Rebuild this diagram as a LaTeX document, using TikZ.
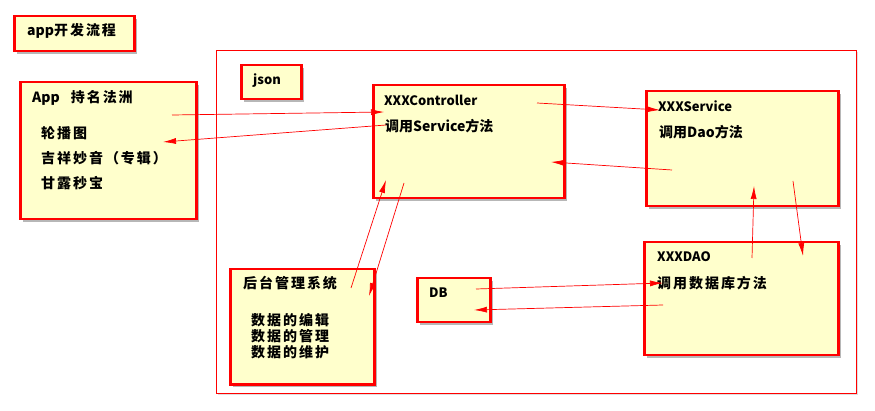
\documentclass[tikz,border=0pt]{standalone}
\usepackage{fontspec}
\setmainfont{Noto Sans CJK SC}
\newfontfamily\widecjk{Noto Sans CJK SC}[LetterSpace=14]
\usetikzlibrary{arrows.meta,shadows}
\definecolor{notefill}{RGB}{255,255,204}
\definecolor{notered}{RGB}{255,0,0}
\tikzset{
  note/.style={draw=notered,line width=2.5pt,fill=notefill,anchor=north west,inner sep=0pt,
    drop shadow={shadow xshift=3pt,shadow yshift=-3pt,opacity=0.4,fill=black!70}},
  txt/.style={anchor=west,inner sep=0pt,font=\bfseries\fontsize{14}{16}\selectfont},
  wide/.style={txt,font=\widecjk\bfseries\fontsize{14}{16}\selectfont},
  small/.style={txt,font=\bfseries\fontsize{13}{15}\selectfont},
  flow/.style={draw=notered,line width=0.7pt,-{Latex[length=13pt,width=6pt]}}
}
\newcommand\latinpart[1]{{\rmfamily\bfseries #1}}
\begin{document}
\begin{tikzpicture}[x=1pt,y=-1pt]
\useasboundingbox (0,0) rectangle (875,411);
% outer frame
\node[draw=notered,line width=0.8pt,fill=white,anchor=north west,inner sep=0pt,
  minimum width=640pt,minimum height=343pt,
  drop shadow={shadow xshift=2pt,shadow yshift=-2pt,opacity=0.25}] (area) at (216,50) {};
% boxes
\node[note,minimum width=120pt,minimum height=35pt] (title) at (13,15) {};
\node[note,minimum width=60pt,minimum height=34pt] (json) at (240,64) {};
\node[note,minimum width=176pt,minimum height=137pt] (app) at (19,81) {};
\node[note,minimum width=191pt,minimum height=113pt] (ctrl) at (372,84) {};
\node[note,minimum width=192pt,minimum height=115pt] (svc) at (645,90) {};
\node[note,minimum width=144pt,minimum height=115pt] (admin) at (229,268) {};
\node[note,minimum width=73pt,minimum height=44pt] (db) at (416,277) {};
\node[note,minimum width=194pt,minimum height=113pt] (dao) at (643,241) {};
% texts
\node[wide] (title-t) at (27,31) {\latinpart{app}开发流程};
\node[small] (json-t) at (253,81) {json};
\node[wide] (app-t) at (32,98) {\latinpart{App}\hspace{11pt}持名法洲};
\node[wide] (app-a) at (41,133) {轮播图};
\node[wide] (app-b) at (41,158) {吉祥妙音（专辑）};
\node[wide] (app-c) at (41,183) {甘露秒宝};
\node[small] (ctrl-t) at (384,100) {XXXController};
\node[txt] (ctrl-a) at (385,126) {调用Service方法};
\node[small] (svc-t) at (658,106) {XXXService};
\node[txt] (svc-a) at (659,132) {调用Dao方法};
\node[wide] (admin-t) at (243,283) {后台管理系统};
\node[wide] (admin-a) at (251,320) {数据的编辑};
\node[wide] (admin-b) at (251,336) {数据的管理};
\node[wide] (admin-c) at (251,352) {数据的维护};
\node[small] (db-t) at (429,293) {DB};
\node[small] (dao-t) at (657,257) {XXXDAO};
\node[wide] (dao-a) at (657,283) {调用数据库方法};
% connectors
\draw[flow] ([shift={(153,34)}]app.north west) -- ([shift={(12,28)}]ctrl.north west);
\draw[flow] ([shift={(14,41)}]ctrl.north west) -- ([shift={(144,61)}]app.north west);
\draw[flow] ([shift={(165,19)}]ctrl.north west) -- ([shift={(15,20)}]svc.north west);
\draw[flow] ([shift={(27,80)}]svc.north west) -- ([shift={(179,78)}]ctrl.north west);
\draw[flow] ([shift={(109,17)}]dao.north west) -- ([shift={(109,96)}]svc.north west);
\draw[flow] ([shift={(148,91)}]svc.north west) -- ([shift={(160,15)}]dao.north west);
\draw[flow] ([shift={(60,12)}]db.north west) -- ([shift={(20,42)}]dao.north west);
\draw[flow] ([shift={(20,64)}]dao.north west) -- ([shift={(58,33)}]db.north west);
\draw[flow] ([shift={(122,20)}]admin.north west) -- ([shift={(14,96)}]ctrl.north west);
\draw[flow] ([shift={(32,99)}]ctrl.north west) -- ([shift={(140,28)}]admin.north west);
\end{tikzpicture}
\end{document}
